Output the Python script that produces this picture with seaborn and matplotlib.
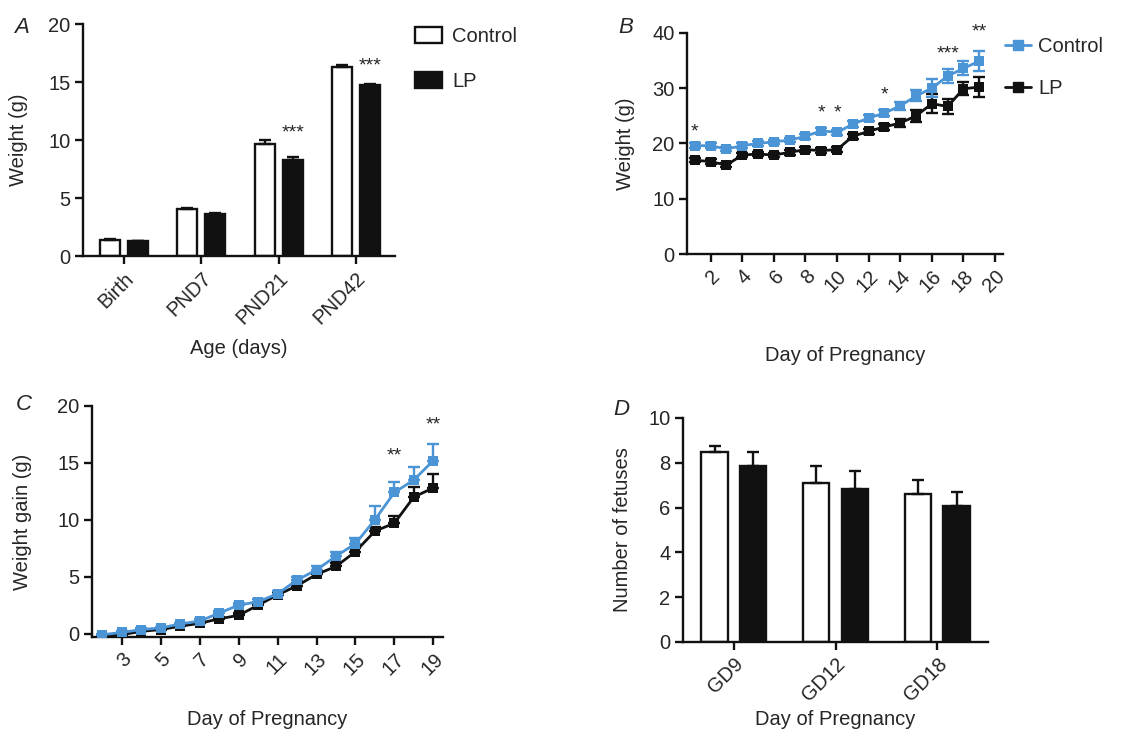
import matplotlib
matplotlib.use('Agg')
import matplotlib.pyplot as plt
from matplotlib.patches import Patch
from matplotlib.lines import Line2D
import numpy as np
import pandas as pd
import seaborn as sns

sns.set_style('ticks')
plt.rcParams['font.family'] = ['Liberation Sans', 'DejaVu Sans']
plt.rcParams['font.size'] = 14

BLUE = '#4b94d6'
BLACK = '#111111'
LW = 1.7
FS = 14.5

# ---- Panel A: offspring weight by age ----
a_ages = ['Birth', 'PND7', 'PND21', 'PND42']
a_control = [1.4, 4.06, 9.64, 16.3]
a_control_err = [0.05, 0.1, 0.35, 0.15]
a_lp = [1.3, 3.63, 8.26, 14.73]
a_lp_err = [0.04, 0.06, 0.3, 0.15]
a_stars = {2: ('***', 9.9), 3: ('***', 15.7)}

# ---- Panel B: maternal weight during pregnancy ----
b_days = list(range(1, 20))
b_control = [19.6, 19.6, 19.0, 19.6, 20.0, 20.3, 20.6, 21.3, 22.3, 22.0,
             23.5, 24.6, 25.5, 26.8, 28.6, 30.0, 32.2, 33.6, 34.9]
b_control_err = [0.5, 0.4, 0.4, 0.4, 0.4, 0.4, 0.4, 0.5, 0.5, 0.5,
                 0.5, 0.5, 0.6, 0.7, 1.0, 1.6, 1.3, 1.3, 1.8]
b_lp = [17.0, 16.7, 16.1, 17.9, 18.1, 17.9, 18.4, 18.9, 18.7, 18.9,
        21.3, 22.2, 23.0, 23.7, 25.0, 27.2, 26.7, 29.9, 30.2]
b_lp_err = [0.4, 0.4, 0.4, 0.4, 0.4, 0.4, 0.4, 0.4, 0.5, 0.5,
            0.5, 0.5, 0.5, 0.7, 1.1, 1.7, 1.3, 1.2, 1.8]
b_stars = {1: ('*', 20.6), 9: ('*', 23.9), 10: ('*', 23.9), 13: ('*', 27.3),
           17: ('***', 34.6), 19: ('**', 38.7)}

# ---- Panel C: weight gain during pregnancy ----
c_days = list(range(2, 20))
c_control = [-0.1, 0.1, 0.35, 0.5, 0.85, 1.1, 1.8, 2.5, 2.8, 3.5,
             4.7, 5.6, 6.8, 7.9, 10.0, 12.4, 13.5, 15.2]
c_control_err = [0.1, 0.1, 0.1, 0.1, 0.1, 0.15, 0.2, 0.2, 0.2, 0.2,
                 0.25, 0.3, 0.4, 0.5, 1.2, 0.9, 1.1, 1.5]
c_lp = [-0.2, -0.1, 0.2, 0.35, 0.65, 0.9, 1.3, 1.6, 2.5, 3.4,
        4.2, 5.2, 5.9, 7.2, 9.0, 9.7, 12.0, 12.8]
c_lp_err = [0.1, 0.1, 0.1, 0.1, 0.1, 0.1, 0.15, 0.2, 0.2, 0.2,
            0.2, 0.25, 0.3, 0.3, 0.4, 0.6, 0.9, 1.2]
c_stars = {17: ('**', 14.9), 19: ('**', 17.6)}

# ---- Panel D: number of fetuses ----
d_days = ['GD9', 'GD12', 'GD18']
d_control = [8.5, 7.1, 6.62]
d_control_err = [0.25, 0.75, 0.6]
d_lp = [7.86, 6.82, 6.09]
d_lp_err = [0.63, 0.8, 0.6]

groups = ['Control', 'LP']
bar_palette = {'Control': 'white', 'LP': BLACK}
line_palette = {'Control': BLUE, 'LP': BLACK}


def style_axis(ax):
    sns.despine(ax=ax)
    for s in ['left', 'bottom']:
        ax.spines[s].set_linewidth(LW)
        ax.spines[s].set_color(BLACK)
    ax.tick_params(width=LW, length=6, color=BLACK, labelsize=FS, pad=3)


def rotate_xticks(ax):
    for lbl in ax.get_xticklabels():
        lbl.set_rotation(45)
        lbl.set_ha('right')
        lbl.set_rotation_mode('anchor')


def place_labels(ax, xlabel, ylabel, xy, yx):
    ax.set_xlabel(xlabel, fontsize=FS, va='center')
    ax.set_ylabel(ylabel, fontsize=FS, va='center')
    ax.xaxis.set_label_coords(0.5, xy)
    ax.yaxis.set_label_coords(yx, 0.5)


def bar_panel(ax, cats, ctrl, ctrl_err, lp, lp_err, width, gap):
    df = pd.DataFrame({
        'cat': cats * 2,
        'group': ['Control'] * len(cats) + ['LP'] * len(cats),
        'value': ctrl + lp,
    })
    sns.barplot(data=df, x='cat', y='value', hue='group', hue_order=groups,
                palette=bar_palette, edgecolor=BLACK, linewidth=LW,
                width=width, gap=gap, errorbar=None, legend=False, ax=ax)
    off = width / 4
    x = np.arange(len(cats))
    for dx, vals, errs in [(-off, ctrl, ctrl_err), (off, lp, lp_err)]:
        ax.errorbar(x + dx, vals, yerr=[np.zeros(len(vals)), errs], fmt='none',
                    ecolor=BLACK, elinewidth=LW, capsize=4.5, capthick=LW, zorder=1)
    rotate_xticks(ax)
    return off


def line_panel(ax, days, ctrl, ctrl_err, lp, lp_err, upper_only=False):
    df = pd.DataFrame({
        'day': days * 2,
        'group': ['Control'] * len(days) + ['LP'] * len(days),
        'value': ctrl + lp,
    })
    for g, vals, errs in [('LP', lp, lp_err), ('Control', ctrl, ctrl_err)]:
        errs = np.array(errs)
        yerr = [np.zeros(len(errs)), errs] if upper_only else errs
        ax.errorbar(days, vals, yerr=yerr, fmt='none', ecolor=line_palette[g],
                    elinewidth=LW, capsize=4, capthick=LW, zorder=2)
    sns.lineplot(data=df, x='day', y='value', hue='group', hue_order=['LP', 'Control'],
                 palette=line_palette, marker='s', markersize=7, markeredgewidth=0,
                 linewidth=LW + 0.3, legend=False, ax=ax, zorder=3)


fig = plt.figure(figsize=(11.31, 7.32), dpi=100)

# A
axA = fig.add_axes([0.0734, 0.650, 0.2756, 0.317])
style_axis(axA)
offA = bar_panel(axA, a_ages, a_control, a_control_err, a_lp, a_lp_err, 0.72, 0.28)
axA.set_xlim(-0.53, 3.5)
axA.set_ylim(0, 20)
axA.set_yticks([0, 5, 10, 15, 20])
place_labels(axA, 'Age (days)', 'Weight (g)', -0.397, -0.208)
for i, (s, y) in a_stars.items():
    axA.text(i + offA, y, s, ha='center', va='bottom', fontsize=14)
axA.legend(handles=[Patch(facecolor='white', edgecolor=BLACK, linewidth=LW, label='Control'),
                    Patch(facecolor=BLACK, edgecolor=BLACK, linewidth=LW, label='LP')],
           loc='upper left', bbox_to_anchor=(0.367, 0.963), bbox_transform=fig.transFigure,
           frameon=False, fontsize=FS, handlelength=1.35, handleheight=0.85,
           labelspacing=1.3, handletextpad=0.5, borderpad=0, borderaxespad=0)
fig.text(0.019, 0.962, 'A', fontsize=16, style='italic', va='center', ha='center')

# B
axB = fig.add_axes([0.6074, 0.653, 0.2794, 0.302])
style_axis(axB)
line_panel(axB, b_days, b_control, b_control_err, b_lp, b_lp_err)
axB.set_xlim(0.5, 20.5)
axB.set_ylim(0, 40)
axB.set_xticks(range(2, 21, 2))
axB.set_yticks([0, 10, 20, 30, 40])
rotate_xticks(axB)
place_labels(axB, 'Day of Pregnancy', 'Weight (g)', -0.457, -0.196)
for d, (s, y) in b_stars.items():
    axB.text(d, y, s, ha='center', va='bottom', fontsize=14)
axB.legend(handles=[Line2D([], [], color=BLUE, marker='s', markersize=7, lw=LW + 0.3, label='Control'),
                    Line2D([], [], color=BLACK, marker='s', markersize=7, lw=LW + 0.3, label='LP')],
           loc='upper left', bbox_to_anchor=(0.8886, 0.95), bbox_transform=fig.transFigure,
           frameon=False, fontsize=FS, handlelength=1.3, labelspacing=1.15, handletextpad=0.35,
           borderpad=0, borderaxespad=0)
fig.text(0.553, 0.962, 'B', fontsize=16, style='italic', va='center', ha='center')

# C
axC = fig.add_axes([0.0813, 0.1298, 0.3104, 0.3156])
style_axis(axC)
line_panel(axC, c_days, c_control, c_control_err, c_lp, c_lp_err, upper_only=True)
axC.set_xlim(1.46, 19.5)
axC.set_ylim(-0.3, 20)
axC.set_xticks(range(3, 20, 2))
axC.set_yticks([0, 5, 10, 15, 20])
rotate_xticks(axC)
place_labels(axC, 'Day of Pregnancy', 'Weight gain (g)', -0.359, -0.197)
for d, (s, y) in c_stars.items():
    axC.text(d, y, s, ha='center', va='bottom', fontsize=14)
fig.text(0.021, 0.448, 'C', fontsize=16, style='italic', va='center', ha='center')

# D
axD = fig.add_axes([0.6039, 0.123, 0.2697, 0.306])
style_axis(axD)
bar_panel(axD, d_days, d_control, d_control_err, d_lp, d_lp_err, 0.76, 0.316)
axD.set_xlim(-0.5, 2.5)
axD.set_ylim(0, 10)
axD.set_yticks([0, 2, 4, 6, 8, 10])
place_labels(axD, 'Day of Pregnancy', 'Number of fetuses', -0.348, -0.2)
fig.text(0.549, 0.44, 'D', fontsize=16, style='italic', va='center', ha='center')

fig.savefig('out.png', dpi=100)
